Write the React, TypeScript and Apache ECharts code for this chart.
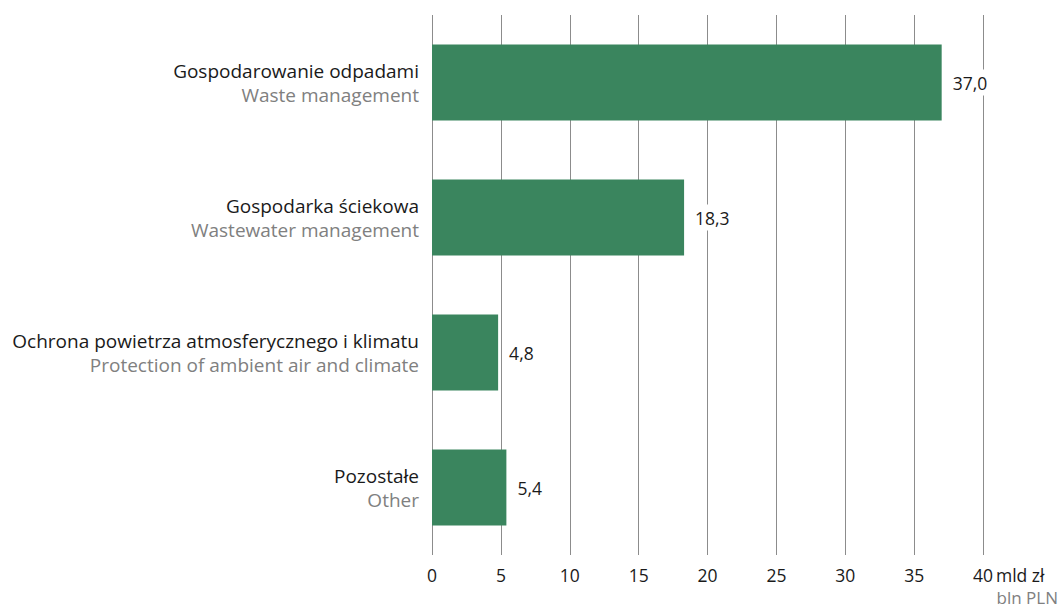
import React, { useEffect, useRef } from "react";
import * as echarts from "echarts";

const categoriesPL = [
  "Gospodarowanie odpadami",
  "Gospodarka ściekowa",
  "Ochrona powietrza atmosferycznego i klimatu",
  "Pozostałe",
];
const categoriesEN = [
  "Waste management",
  "Wastewater management",
  "Protection of ambient air and climate",
  "Other",
];
const values = [37.0, 18.3, 4.8, 5.4];
const axisUnitPL = "mld zł";
const axisUnitEN = "bln PLN";

const FONT = "'Open Sans', 'Noto Sans', sans-serif";
const TEXT_SIZE = 19;
const NUM_SIZE = 17.5;

export default function App() {
  const ref = useRef<HTMLDivElement>(null);
  useEffect(() => {
    if (!ref.current) return;
    const chart = echarts.init(ref.current, undefined, { renderer: "svg" });
    const cats = categoriesPL.map((_, i) => String(i));
    chart.setOption({
      animation: false,
      textStyle: { fontFamily: FONT },
      grid: { left: 432, right: 80, top: 15, bottom: 54, containLabel: false },
      xAxis: {
        type: "value",
        min: 0,
        max: 40,
        interval: 5,
        axisLine: { show: false },
        axisTick: { show: false },
        splitLine: { show: true, lineStyle: { color: "#8c8c8c", width: 1 } },
        axisLabel: {
          margin: 11,
          fontSize: NUM_SIZE,
          color: "#1a1a1a",
          fontFamily: FONT,
          formatter: (v: number) => String(v),
        },
      },
      yAxis: {
        type: "category",
        inverse: true,
        data: cats,
        axisLine: { show: false },
        axisTick: { show: false },
        axisLabel: {
          margin: 13,
          align: "right",
          formatter: (v: string) => {
            const i = Number(v);
            return `{a|${categoriesPL[i]}}\n{b|${categoriesEN[i]}}`;
          },
          rich: {
            a: { fontSize: TEXT_SIZE, color: "#1a1a1a", fontFamily: FONT, lineHeight: 24, align: "right" },
            b: { fontSize: TEXT_SIZE, color: "#808080", fontFamily: FONT, lineHeight: 24, align: "right" },
          },
        },
      },
      series: [
        {
          type: "bar",
          data: values,
          barWidth: 76,
          itemStyle: { color: "#3a855e" },
          label: {
            show: true,
            position: "right",
            distance: 9,
            fontSize: NUM_SIZE,
            color: "#1a1a1a",
            fontFamily: FONT,
            backgroundColor: "#ffffff",
            padding: [4, 2],
            formatter: (p: any) => p.value.toFixed(1).replace(".", ","),
          },
        },
      ],
    });
    const x40 = chart.convertToPixel({ xAxisIndex: 0 }, 40) as number;
    const yBottom = 609 - 54;
    chart.setOption({
      graphic: [
        {
          type: "text",
          x: x40 + 13,
          y: yBottom + 11,
          style: {
            text: axisUnitPL,
            fontSize: NUM_SIZE,
            fill: "#1a1a1a",
            fontFamily: FONT,
            textAlign: "left",
            textVerticalAlign: "top",
          },
        },
        {
          type: "text",
          x: 1058,
          y: yBottom + 42,
          style: {
            text: axisUnitEN,
            fontSize: 17,
            fill: "#808080",
            fontFamily: FONT,
            textAlign: "right",
            textVerticalAlign: "middle",
          },
        },
      ],
    });
    return () => chart.dispose();
  }, []);
  return <div ref={ref} style={{ width: 1063, height: 609, position: "absolute", left: 0, top: 0 }} />;
}
